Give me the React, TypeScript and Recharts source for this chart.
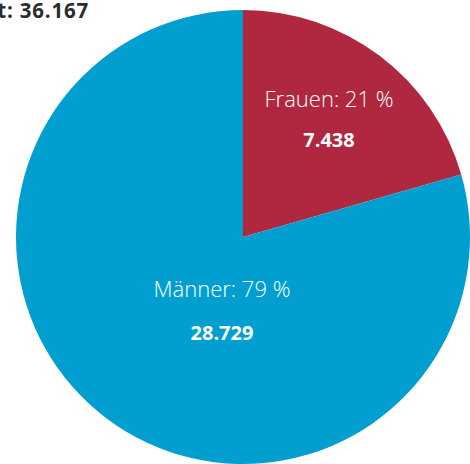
import React from "react";
import { PieChart, Pie, Cell } from "recharts";

const categories = ["Frauen", "Männer"];
const values = [7438, 28729];
const percentLabels = ["21 %", "79 %"];
const valueLabels = ["7.438", "28.729"];
const totalLabel = "Gesamt: 36.167";

const colors = ["#B0283F", "#009FD0"];
// label anchor offsets relative to pie centre (layout only)
const labelOffsets = [
  { dx: 86, dy1: -130, dy2: -90 },
  { dx: -21, dy1: 60, dy2: 103 },
];

const data = categories.map((name, i) => ({ name, value: values[i] }));

const FONT = "'Open Sans', 'Noto Sans', sans-serif";

const renderLabel = (props: any) => {
  const { cx, cy, index } = props;
  const o = labelOffsets[index];
  return (
    <g key={`lbl-${index}`}>
      <text x={cx + o.dx} y={cy + o.dy1} textAnchor="middle" fill="#ffffff" fontFamily={FONT} fontWeight={300} fontSize={22}>
        {`${categories[index]}: ${percentLabels[index]}`}
      </text>
      <text x={cx + o.dx} y={cy + o.dy2} textAnchor="middle" fill="#ffffff" fontFamily={FONT} fontWeight={700} fontSize={20}>
        {valueLabels[index]}
      </text>
    </g>
  );
};

export default function App() {
  return (
    <div style={{ position: "absolute", left: 0, top: 0, width: 470, height: 464, background: "#fff" }}>
      <PieChart width={470} height={464} margin={{ top: 0, right: 0, bottom: 0, left: 0 }}>
        <text x={89} y={18} textAnchor="end" fill="#2b2b2b" fontFamily={FONT} fontWeight={700} fontSize={20.5} letterSpacing={0.8}>
          {totalLabel}
        </text>
        <Pie
          data={data}
          dataKey="value"
          nameKey="name"
          cx={243}
          cy={237}
          outerRadius={227}
          innerRadius={0}
          startAngle={90}
          endAngle={-270}
          stroke="none"
          isAnimationActive={false}
          labelLine={false}
          label={renderLabel}
        >
          {data.map((d, i) => (
            <Cell key={d.name} fill={colors[i]} />
          ))}
        </Pie>
      </PieChart>
    </div>
  );
}
